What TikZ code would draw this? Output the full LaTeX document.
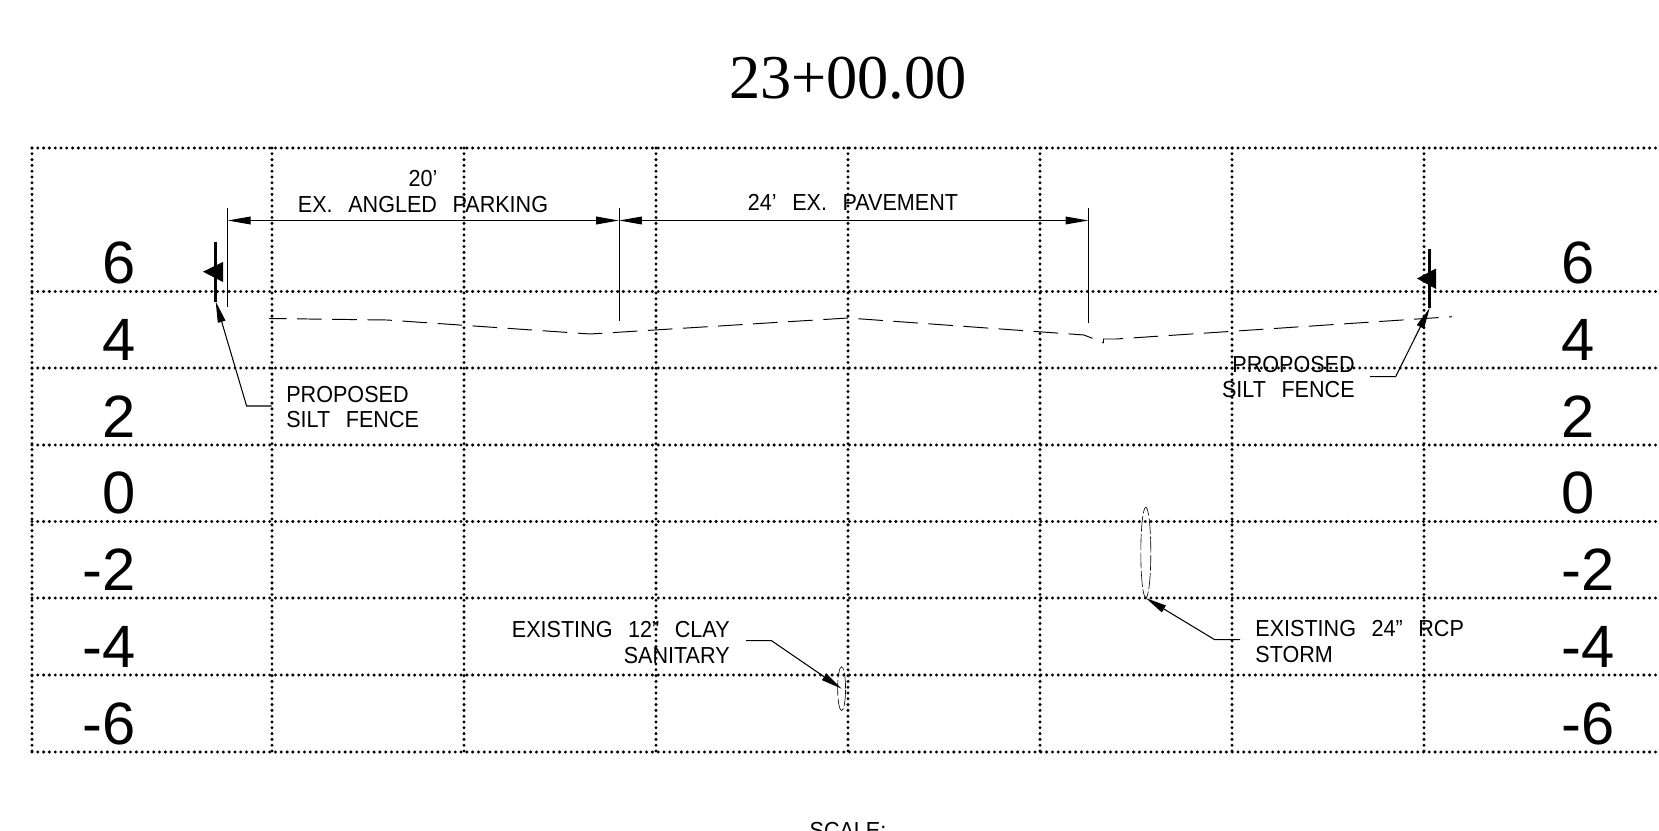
\documentclass[tikz,border=0pt]{standalone}
\usepackage{fontspec}
\setmainfont{Liberation Sans}
\newfontfamily\cadfont{Liberation Sans}[FakeStretch=0.93,WordSpace=2.6]
\newfontfamily\titlefont{Liberation Serif}
\usepackage{tikz}
\usetikzlibrary{positioning,%
  arrows.meta,%
  shapes.geometric
}

\begin{document}
\begin{tikzpicture}
    [x=0.02cm, y=-0.02cm,
    grid/.style={line width=1.9pt, line cap=round,
        dash pattern=on 0pt off 3.3pt},
    elev/.style={font=\fontsize{34}{34}\selectfont, inner sep=0pt},
    cad/.style={font=\cadfont\fontsize{13.2}{14.5}\selectfont, inner sep=0pt},
    ext/.style={line width=.55pt},
    dim/.style={line width=.6pt, {Triangle[length=13pt,width=4.4pt]}-{Triangle[length=13pt,width=4.4pt]}},
    leader/.style={line width=.6pt, -{Triangle[length=12pt,width=4.4pt]}},
    pipe/.style={ellipse, draw, line width=.35pt, dash pattern=on 9pt off 1.5pt, inner sep=0pt},
    fence/.style={line width=2pt}]

    \clip (0,0) rectangle (1659,831);

    \node[font=\titlefont\fontsize{35.5}{36}\selectfont] (title) at (848,78) {23+00.00};

    % grid
    \draw[grid] (32,148) -- (1659,148);
    \foreach \gy in {291.5,368,445,521.5,598,675,752}
        \draw[grid] (32,\gy) -- (1659,\gy);
    \foreach \gx in {32,272,464,656,848,1040,1232,1424}
        \draw[grid] (\gx,148) -- (\gx,752);

    % elevations
    \foreach \lab/\ly [count=\i] in {6/262.5,4/340,2/417,0/493,-2/570,-4/646.5,-6/724} {
        \node[elev, anchor=east] (left\i) at (136,\ly) {\lab};
        \node[elev, anchor=west] (right\i) at (1561,\ly) {\lab};
    }

    % ground line
    \draw[ext, dash pattern=on 14pt off 6pt, dash phase=4pt] (269,318.5) -- (387,320) -- (590,334) -- (848,318)
        -- (1084,335) -- (1103.5,342.7) -- (1103.5,339) -- (1116,339) -- (1452,316.7);

    % dimensions
    \coordinate (edgeA) at (227.7,220.5);
    \coordinate (edgeB) at (619,220.5);
    \coordinate (edgeC) at (1088.4,220.5);
    \draw[ext] (227.7,208) -- (227.7,306.5);
    \draw[ext] (619,208) -- (619,320.5);
    \draw[ext] (1088.4,208) -- (1088.4,322.5);
    \draw[dim] (edgeA) -- (edgeB);
    \draw[dim] (edgeB) -- (edgeC);
    \node[cad] (park) at (423,204.5) {EX. ANGLED PARKING};
    \node[cad, above=5pt of park] (parkw) {20’};
    \node[cad] (pave) at (853,202.5) {24’ EX. PAVEMENT};

    % silt fences
    \coordinate (fenceL) at (215.7,301.5);
    \coordinate (fenceR) at (1429.7,308);
    \draw[fence] (215.7,241.7) -- (fenceL);
    \fill (203,271.7) -- (223,262) -- (223,282) -- cycle;
    \draw[fence] (1429.7,249) -- (fenceR);
    \fill (1417,278.5) -- (1436,268.5) -- (1436,289) -- cycle;

    \node[cad, anchor=west, align=left] (siltL) at (286,407) {PROPOSED\\SILT FENCE};
    \node[cad, anchor=east, align=right] (siltR) at (1355,377) {PROPOSED\\SILT FENCE};
    \coordinate (siltLend) at (271.5,406);
    \coordinate (siltRend) at (1370,376.7);
    \draw[leader] (siltLend) -- (246.6,406) -- (fenceL);
    \draw[leader] (siltRend) -- (1395.6,376.7) -- (fenceR);

    % pipes
    \node[pipe, minimum width=4.5pt, minimum height=25pt] (sanpipe) at (841.6,688.7) {};
    \node[pipe, minimum width=5.7pt, minimum height=51.5pt] (stormpipe) at (1145.8,552.5) {};

    \node[cad, anchor=east, align=right] (sanlbl) at (730,642.5) {EXISTING 12” CLAY\\SANITARY};
    \node[cad, anchor=west, align=left] (stormlbl) at (1255,641.5) {EXISTING 24” RCP\\STORM};
    \coordinate (sanend) at (746,640.7);
    \coordinate (stormend) at (1240,639.7);
    \draw[leader] (sanend) -- (771.5,640.7) -- (sanpipe.center);
    \draw[leader] (stormend) -- (1214.7,639.7) -- (stormpipe.south);

    \node[cad] (scale) at (848,830.5) {SCALE:};
\end{tikzpicture}
\end{document}
